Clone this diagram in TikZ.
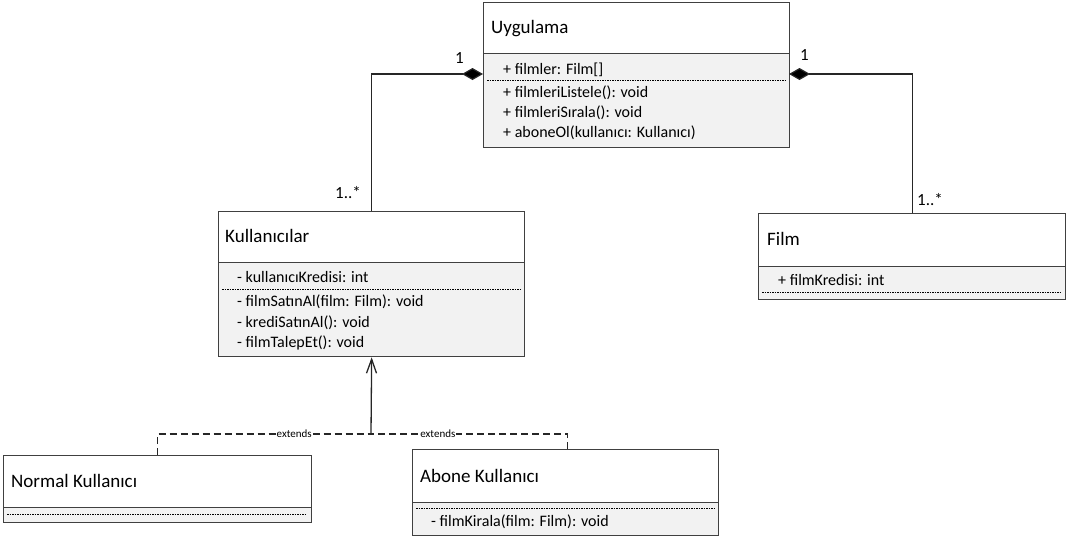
\documentclass[tikz,border=0pt]{standalone}
\usepackage{fontspec}
\setmainfont{Carlito}
\usetikzlibrary{arrows.meta}
\newlength{\du}
\setlength{\du}{1pt}
\definecolor{boxcolor}{rgb}{0.250000, 0.250000, 0.250000}
\definecolor{linecolor}{rgb}{0.150000, 0.150000, 0.150000}
\definecolor{boxfill}{rgb}{0.949000, 0.949000, 0.949000}
\tikzset{
  classhead/.style={draw=boxcolor, fill=white, line width=1.3\du, inner sep=0pt, anchor=north west},
  classbody/.style={draw=boxcolor, fill=boxfill, line width=1.3\du, inner sep=0pt, anchor=north west},
  classtitle/.style={anchor=base west, inner sep=0pt, font=\fontsize{19}{19}\selectfont},
  member/.style={anchor=base west, inner sep=0pt, font=\fontsize{16}{16}\selectfont},
  sepline/.style={draw=black, line width=0.8\du, dash pattern=on 1.5\du off 1\du},
  mult/.style={anchor=base west, inner sep=0pt, font=\fontsize{17}{17}\selectfont},
  comp/.style={draw=linecolor, line width=1.2\du, -{Diamond[length=21pt,width=12pt,fill=black]}},
  ext/.style={draw=linecolor, line width=1.4\du, dash pattern=on 7\du off 4\du},
  extlabel/.style={fill=white, inner sep=1\du, font=\fontsize{11}{11}\selectfont},
}
\begin{document}
\begin{tikzpicture}
\pgftransformxscale{1.000000}
\pgftransformyscale{-1.000000}
\useasboundingbox (0\du,0\du) rectangle (1067\du,539\du);
% Uygulama
\node[classhead, minimum width=306\du, minimum height=51\du] (uyghead) at (483\du,2\du) {};
\node[classbody, minimum width=306\du, minimum height=94\du] (uygbody) at (483\du,53\du) {};
\node[classtitle] (uygtitle) at (491\du,33\du) {Uygulama};
\node[member] (uygattr) at (503\du,74\du) {+ filmler: Film[]};
\draw[sepline] (487\du,80\du)--(785\du,80\du);
\node[member] (uygop1) at (503\du,97\du) {+ filmleriListele(): void};
\node[member] (uygop2) at (503\du,117\du) {+ filmleriSırala(): void};
\node[member] (uygop3) at (503\du,137\du) {+ aboneOl(kullanıcı: Kullanıcı)};
% Kullanicilar
\node[classhead, minimum width=306\du, minimum height=51\du] (kulhead) at (218\du,211\du) {};
\node[classbody, minimum width=306\du, minimum height=94\du] (kulbody) at (218\du,262\du) {};
\node[classtitle] (kultitle) at (225\du,242\du) {Kullanıcılar};
\node[member] (kulattr) at (237\du,282\du) {- kullanıcıKredisi: int};
\draw[sepline] (222\du,289\du)--(520\du,289\du);
\node[member] (kulop1) at (237\du,306\du) {- filmSatınAl(film: Film): void};
\node[member] (kulop2) at (237\du,327\du) {- krediSatınAl(): void};
\node[member] (kulop3) at (237\du,347\du) {- filmTalepEt(): void};
% Film
\node[classhead, minimum width=307\du, minimum height=53\du] (filmhead) at (758\du,213\du) {};
\node[classbody, minimum width=307\du, minimum height=33\du] (filmbody) at (758\du,266\du) {};
\node[classtitle] (filmtitle) at (767\du,245\du) {Film};
\node[member] (filmattr) at (778\du,285\du) {+ filmKredisi: int};
\draw[sepline] (762\du,292\du)--(1061\du,292\du);
% Normal Kullanici
\node[classhead, minimum width=308\du, minimum height=52\du] (normhead) at (3\du,455\du) {};
\node[classbody, minimum width=308\du, minimum height=15\du] (normbody) at (3\du,507\du) {};
\node[classtitle] (normtitle) at (11\du,487\du) {Normal Kullanıcı};
\draw[sepline] (7\du,514\du)--(307\du,514\du);
% Abone Kullanici
\node[classhead, minimum width=306\du, minimum height=53\du] (abohead) at (412\du,449\du) {};
\node[classbody, minimum width=306\du, minimum height=33\du] (abobody) at (412\du,502\du) {};
\node[classtitle] (abotitle) at (420\du,482\du) {Abone Kullanıcı};
\draw[sepline] (416\du,508\du)--(714\du,508\du);
\node[member] (aboop1) at (431\du,526\du) {- filmKirala(film: Film): void};
% composition
\coordinate (uygL) at (483\du,74\du);
\coordinate (uygR) at (789\du,74\du);
\draw[comp] (kulhead.north) |- (uygL);
\draw[comp] (filmhead.north) |- (uygR);
\node[mult] (multL1) at (455\du,63\du) {1};
\node[mult] (multL2) at (335\du,198\du) {1..*};
\node[mult] (multR1) at (800\du,60\du) {1};
\node[mult] (multR2) at (917\du,205\du) {1..*};
% extends
\coordinate (join) at (371\du,434\du);
\draw[ext] (normhead.north) |- (join) node[extlabel, pos=0.82] (extL) {extends};
\draw[ext] ([xshift=2\du]abohead.north) |- (join) node[extlabel, pos=0.83] (extR) {extends};
\draw[draw=linecolor, line width=1.3\du, -{Straight Barb[length=14pt,width=10pt]}] (join)--(kulbody.south);
\end{tikzpicture}
\end{document}
